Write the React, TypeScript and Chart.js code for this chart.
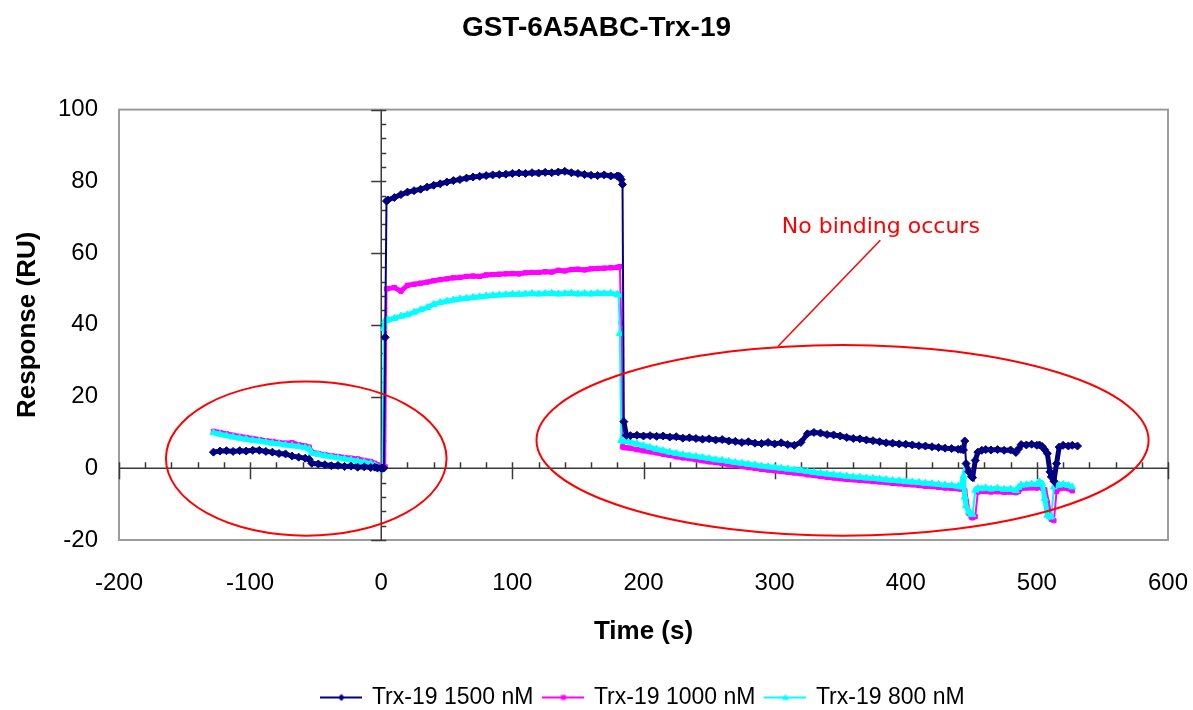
import React, { useEffect, useRef } from 'react';
import { Chart, registerables } from 'chart.js';

Chart.register(...registerables);

// ---- data (time in s, response in RU) ----
const TIME = [
  -128, -123, -118, -113, -108, -103, -98, -93, -88, -83, -78, -73, -68, -63, -58, -55, -53,
  -48, -43, -38, -33, -28, -23, -18, -13, -8, -5, -3, 0, 1, 2, 3, 4,
  5, 10, 15, 20, 25, 30, 35, 40, 45, 50, 55, 60, 65, 70, 75, 80, 85, 90, 95, 100,
  105, 110, 115, 120, 125, 130, 135, 140, 145, 150, 155, 160, 165, 170, 175,
  180, 181, 182, 183, 184, 185, 187,
  190, 195, 200, 205, 210, 215, 220, 225, 230, 235,
  240, 245, 250, 255, 260, 265, 270, 275, 280, 285,
  290, 295, 300, 305, 310, 315, 320, 325, 330, 335,
  340, 345, 350, 355, 360, 365, 370, 375, 380, 385,
  390, 395, 400, 405, 410, 415, 420, 425, 430, 435, 440,
  442, 444, 445, 446, 448, 450, 451, 453, 455, 458, 461, 465, 470, 475, 480, 484, 486,
  488, 492, 496, 500, 502, 504, 506, 508, 510, 511, 513, 515, 517, 520, 524, 527, 531,
];

const R1500 = [
  4.5, 4.8, 4.9, 4.7, 4.9, 4.8, 5.0, 5.0, 4.7, 4.5, 4.1, 4.0, 3.4, 3.1, 2.8, 2.5, 1.4,
  1.2, 1.0, 0.7, 0.8, 0.5, 0.6, 0.3, 0.4, 0.2, 0.3, 0.1, 0.0, 0.0, 0.1, 36.5, 74.5,
  74.8, 75.5, 76.3, 77.0, 77.4, 77.8, 78.4, 78.9, 79.3, 79.8, 80.2, 80.5, 80.9, 81.2, 81.4, 81.6, 81.8, 81.9, 82.0, 82.2,
  82.3, 82.2, 82.4, 82.3, 82.5, 82.4, 82.6, 82.8, 82.4, 82.2, 81.9, 81.7, 81.6, 81.8, 81.5,
  81.5, 81.4, 81.3, 80.5, 79.1, 13.0, 9.2,
  9.1, 9.2, 9.0, 9.1, 8.9, 9.0, 8.7, 8.8, 8.4, 8.5,
  8.3, 8.1, 8.2, 7.9, 8.0, 7.6, 7.5, 7.2, 7.4, 7.0,
  6.9, 7.2, 6.8, 7.1, 6.6, 6.4, 7.2, 9.6, 10.0, 9.8,
  9.4, 9.3, 9.0, 8.6, 8.3, 8.2, 7.9, 7.7, 7.4, 7.1,
  7.0, 6.8, 6.7, 6.5, 6.3, 6.2, 6.0, 5.8, 5.6, 5.5, 5.3,
  5.3, 5.1, 7.6, 1.3, -1.0, -2.3, -2.6, 2.2, 4.5, 5.0, 5.2, 5.1, 5.2, 5.0, 5.1, 4.4, 5.4,
  6.6, 6.5, 6.7, 6.4, 6.5, 6.1, 5.2, 4.1, -1.0, -2.4, -3.6, 1.3, 5.9, 6.4, 6.2, 6.4, 6.2,
];

const R1000 = [
  10.3, 10.0, 9.6, 9.2, 8.9, 8.6, 8.3, 8.0, 7.7, 7.5, 7.2, 7.0, 7.1, 6.6, 6.2, 5.9, 4.5,
  4.1, 3.8, 3.5, 3.3, 3.0, 2.8, 2.6, 2.2, 1.9, 1.4, 1.0, 0.5, 0.3, 0.3, 0.4, 50.0,
  50.1, 50.4, 49.4, 51.0, 51.3, 51.6, 51.9, 52.3, 52.6, 52.8, 53.1, 53.2, 53.5, 53.6, 53.5, 53.9, 54.0, 54.1, 54.2, 54.3,
  54.2, 54.5, 54.6, 54.6, 54.8, 54.7, 55.2, 55.0, 55.4, 55.5, 55.3, 55.6, 55.7, 55.8, 55.9,
  56.0, 56.1, 56.2, 40.5, 6.0, 5.8, 5.7,
  5.6, 5.2, 4.9, 4.6, 4.3, 3.9, 3.6, 3.2, 2.9, 2.7,
  2.4, 2.1, 1.8, 1.6, 1.3, 1.0, 0.8, 0.5, 0.2, 0.0,
  -0.3, -0.5, -0.7, -0.9, -1.1, -1.3, -1.5, -1.8, -2.0, -2.3,
  -2.5, -2.7, -2.9, -3.1, -3.2, -3.4, -3.5, -3.7, -3.8, -4.0,
  -4.2, -4.3, -4.5, -4.6, -4.8, -5.0, -5.1, -5.3, -5.5, -5.6, -5.7,
  -5.8, -5.6, -6.2, -9.0, -12.5, -13.6, -13.8, -13.5, -6.6, -6.4, -6.5, -6.6, -6.5, -6.7, -6.6, -6.8, -6.5,
  -5.6, -5.5, -5.4, -5.5, -5.3, -5.6, -6.0, -9.5, -13.5, -14.2, -14.6, -6.5, -5.6, -5.5, -5.7, -6.3, null,
];

const R800 = [
  9.9, 9.5, 9.1, 8.7, 8.4, 8.1, 7.8, 7.6, 7.3, 7.0, 6.8, 6.5, 6.3, 6.1, 5.7, 5.4, 4.2,
  3.9, 3.5, 3.2, 2.9, 2.6, 2.3, 2.0, 1.7, 1.3, 0.8, 0.4, -0.4, -0.2, 39.0, 41.2, 41.3,
  41.4, 41.8, 42.4, 42.8, 43.5, 44.2, 44.8, 45.7, 46.2, 46.6, 46.9, 47.2, 47.4, 47.6, 47.8, 48.0, 48.2, 48.3, 48.4, 48.5,
  48.5, 48.6, 48.7, 48.6, 48.7, 48.8, 48.6, 48.7, 48.8, 48.6, 48.7, 48.6, 48.8, 48.7, 48.8,
  48.5, 48.3, 37.6, 7.8, 7.6, 7.6, 7.5,
  7.3, 6.8, 6.3, 5.8, 5.3, 4.9, 4.5, 4.1, 3.8, 3.5,
  3.3, 3.0, 2.7, 2.4, 2.2, 1.9, 1.6, 1.4, 1.1, 0.9,
  0.6, 0.4, 0.2, 0.0, -0.2, -0.4, -0.6, -0.9, -1.2, -1.4,
  -1.6, -1.8, -2.0, -2.2, -2.4, -2.5, -2.7, -2.8, -3.0, -3.2,
  -3.4, -3.5, -3.7, -3.8, -4.0, -4.2, -4.3, -4.5, -4.7, -4.8, -5.0,
  -5.2, -2.4, -8.0, -10.5, -12.2, -12.8, -12.9, -6.1, -5.6, -5.7, -5.5, -5.8, -5.6, -5.9, -5.8, -6.2, -5.3,
  -4.7, -4.6, -4.4, -4.5, -3.8, -4.3, -8.4, -13.1, -13.6, -13.5, -5.2, -4.6, -4.7, -4.5, -4.8, -5.2, null,
];

const SERIES_NAMES = ['Trx-19 1500 nM', 'Trx-19 1000 nM', 'Trx-19 800 nM'];
const SERIES_VALUES = [R1500, R1000, R800];

const CHART_TITLE = 'GST-6A5ABC-Trx-19';
const X_TITLE = 'Time (s)';
const Y_TITLE = 'Response (RU)';
const X_RANGE = { min: -200, max: 600, step: 100, minor: 20 };
const Y_RANGE = { min: -20, max: 100, step: 20, minor: 4 };

// annotations (in data units)
const NOTE_TEXT = 'No binding occurs';
const NOTE_POS = { x: 381, y: 67.1 };
const NOTE_LINE = { x1: 380.6, y1: 63.6, x2: 302.8, y2: 34.1 };
const ELLIPSES = [
  { cx: -57.2, cy: 2.7, rx: 107, ry: 21.5 },
  { cx: 351.8, cy: 7.8, rx: 233.4, ry: 26.6 },
];

// ---- styles ----
const COLORS = ['#000080', '#ff00ff', '#00ffff'];
const POINT_STYLES = ['rectRot', 'rect', 'triangle'];
const POINT_RADII = [4, 3, 4];
const DRAW_ORDER = [0, 2, 1];
const FONT = "'Liberation Sans', Arial, sans-serif";

function makeLegendSample(color: string, style: string): HTMLCanvasElement {
  const c = document.createElement('canvas');
  c.width = 42;
  c.height = 12;
  const g = c.getContext('2d')!;
  g.strokeStyle = color;
  g.lineWidth = 2;
  g.beginPath();
  g.moveTo(0, 6);
  g.lineTo(42, 6);
  g.stroke();
  g.fillStyle = color;
  g.beginPath();
  if (style === 'rectRot') {
    g.moveTo(21, 2.5);
    g.lineTo(24.5, 6);
    g.lineTo(21, 9.5);
    g.lineTo(17.5, 6);
  } else if (style === 'rect') {
    g.rect(18.5, 3.5, 5, 5);
  } else {
    g.moveTo(21, 2.5);
    g.lineTo(24.5, 8.5);
    g.lineTo(17.5, 8.5);
  }
  g.closePath();
  g.fill();
  return c;
}

const overlayPlugin = {
  id: 'overlay',
  beforeDatasetsDraw(chart: any) {
    const { ctx, chartArea: ca, scales } = chart;
    const xs = scales.x;
    const ys = scales.y;
    ctx.save();
    ctx.strokeStyle = '#9c9c9c';
    ctx.lineWidth = 2;
    ctx.strokeRect(ca.left, ca.top, ca.right - ca.left, ca.bottom - ca.top);
    const x0 = xs.getPixelForValue(0);
    const y0 = ys.getPixelForValue(0);
    ctx.strokeStyle = '#3a3a3a';
    ctx.lineWidth = 1.5;
    ctx.beginPath();
    ctx.moveTo(ca.left, y0);
    ctx.lineTo(ca.right, y0);
    ctx.moveTo(x0, ca.top);
    ctx.lineTo(x0, ca.bottom);
    for (let t = X_RANGE.min; t <= X_RANGE.max + 1e-9; t += X_RANGE.minor) {
      const px = Math.round(xs.getPixelForValue(t)) + 0.5;
      const major = Math.abs(t % X_RANGE.step) < 1e-9;
      ctx.moveTo(px, y0 - 6);
      ctx.lineTo(px, major ? y0 + 11 : y0);
    }
    for (let v = Y_RANGE.min; v <= Y_RANGE.max + 1e-9; v += Y_RANGE.minor) {
      const py = Math.round(ys.getPixelForValue(v)) + 0.5;
      const major = Math.abs(v % Y_RANGE.step) < 1e-9;
      ctx.moveTo(major ? x0 - 10 : x0, py);
      ctx.lineTo(x0 + 5, py);
    }
    ctx.stroke();
    ctx.restore();
  },
  afterDatasetsDraw(chart: any) {
    const { ctx, scales } = chart;
    const xs = scales.x;
    const ys = scales.y;
    ctx.save();
    ctx.strokeStyle = '#ff0000';
    ctx.lineWidth = 2;
    for (const e of ELLIPSES) {
      const cx = xs.getPixelForValue(e.cx);
      const cy = ys.getPixelForValue(e.cy);
      const rx = Math.abs(xs.getPixelForValue(e.cx + e.rx) - cx);
      const ry = Math.abs(ys.getPixelForValue(e.cy + e.ry) - cy);
      ctx.beginPath();
      ctx.ellipse(cx, cy, rx, ry, 0, 0, Math.PI * 2);
      ctx.stroke();
    }
    ctx.beginPath();
    ctx.moveTo(xs.getPixelForValue(NOTE_LINE.x1), ys.getPixelForValue(NOTE_LINE.y1));
    ctx.lineTo(xs.getPixelForValue(NOTE_LINE.x2), ys.getPixelForValue(NOTE_LINE.y2));
    ctx.lineWidth = 1.5;
    ctx.stroke();
    ctx.fillStyle = '#ff0000';
    ctx.font = "22px 'DejaVu Sans', Verdana, sans-serif";
    ctx.textAlign = 'center';
    ctx.textBaseline = 'middle';
    ctx.fillText(NOTE_TEXT, xs.getPixelForValue(NOTE_POS.x), ys.getPixelForValue(NOTE_POS.y));
    ctx.restore();
  },
};

export default function App() {
  const ref = useRef<HTMLCanvasElement | null>(null);

  useEffect(() => {
    if (!ref.current) return;
    const samples = COLORS.map((c, i) => makeLegendSample(c, POINT_STYLES[i]));
    const datasets = SERIES_VALUES.map((vals, i) => ({
      label: SERIES_NAMES[i],
      data: TIME.map((t, j) => ({ x: t, y: vals[j] })),
      borderColor: COLORS[i],
      backgroundColor: COLORS[i],
      pointBackgroundColor: COLORS[i],
      pointBorderColor: COLORS[i],
      pointStyle: POINT_STYLES[i],
      pointRadius: POINT_RADII[i],
      pointBorderWidth: 1,
      borderWidth: 5,
      segment: {
        borderWidth: (c: any) => (Math.abs(c.p1.parsed.y - c.p0.parsed.y) > 6 ? 2 : 5),
      },
      tension: 0,
      spanGaps: false,
      order: DRAW_ORDER[i],
    }));

    const chart = new Chart(ref.current, {
      type: 'line',
      data: { datasets } as any,
      plugins: [overlayPlugin],
      options: {
        animation: false,
        responsive: false,
        devicePixelRatio: 1,
        events: [],
        layout: { padding: { left: 0, right: 0, top: 0, bottom: 0 } },
        plugins: {
          title: {
            display: true,
            text: CHART_TITLE,
            color: '#000',
            font: { family: FONT, size: 28, weight: 'bold' },
            padding: { top: 11, bottom: 65 },
          },
          legend: {
            position: 'bottom',
            fullSize: false,
            maxHeight: 35,
            labels: {
              usePointStyle: true,
              pointStyleWidth: 38,
              padding: 11,
              color: '#000',
              font: { family: FONT, size: 23 },
              generateLabels: (ch: any) =>
                ch.data.datasets.map((ds: any, i: number) => ({
                  text: ds.label,
                  fillStyle: COLORS[i],
                  strokeStyle: COLORS[i],
                  fontColor: '#000',
                  lineWidth: 0,
                  pointStyle: samples[i],
                  hidden: false,
                  datasetIndex: i,
                })),
            },
          },
          tooltip: { enabled: false },
        },
        scales: {
          x: {
            type: 'linear',
            min: X_RANGE.min,
            max: X_RANGE.max,
            grid: { display: false, drawTicks: false },
            border: { display: false },
            ticks: {
              stepSize: X_RANGE.step,
              color: '#000',
              font: { family: FONT, size: 24 },
              padding: 29,
              maxRotation: 0,
              autoSkip: false,
            },
            title: {
              display: true,
              text: X_TITLE,
              color: '#000',
              font: { family: FONT, size: 26, weight: 'bold' },
              padding: { top: 0, bottom: 28 },
            },
            afterFit: (s: any) => {
              s.height = 135;
              s.paddingLeft = 0;
              s.paddingRight = 0;
            },
          },
          y: {
            type: 'linear',
            min: Y_RANGE.min,
            max: Y_RANGE.max,
            grid: { display: false, drawTicks: false },
            border: { display: false },
            ticks: {
              stepSize: Y_RANGE.step,
              color: '#000',
              font: { family: FONT, size: 24 },
              padding: 21,
            },
            title: {
              display: true,
              text: Y_TITLE,
              color: '#000',
              font: { family: FONT, size: 26, weight: 'bold' },
              padding: { top: 12, bottom: 0 },
            },
            afterFit: (s: any) => {
              s.width = 119;
              s.paddingTop = 0;
              s.paddingBottom = 0;
            },
          },
          yRight: {
            type: 'linear',
            position: 'right',
            display: true,
            grid: { display: false, drawTicks: false },
            border: { display: false },
            ticks: { display: false },
            afterFit: (s: any) => {
              s.width = 25;
              s.paddingTop = 0;
              s.paddingBottom = 0;
            },
          },
        },
      } as any,
    });
    return () => chart.destroy();
  }, []);

  return (
    <div style={{ position: 'absolute', left: 0, top: 0, width: 1193, height: 710, background: '#fff' }}>
      <canvas ref={ref} width={1193} height={710} style={{ display: 'block', width: 1193, height: 710 }} />
    </div>
  );
}
